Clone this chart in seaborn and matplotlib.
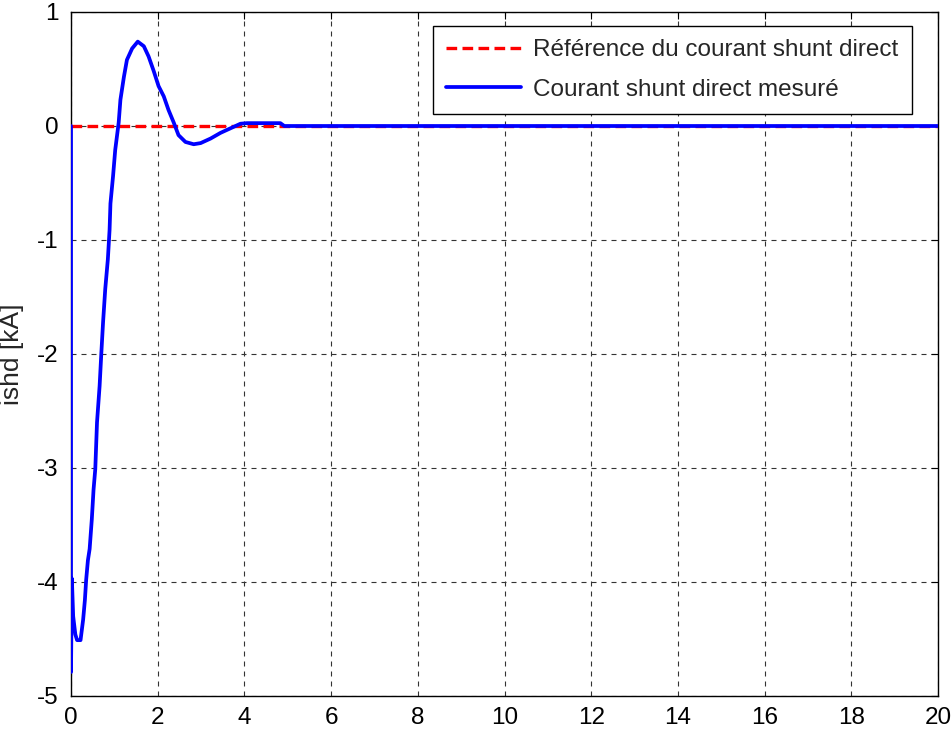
import matplotlib
matplotlib.use("Agg")
import matplotlib.pyplot as plt
import seaborn as sns
import pandas as pd

# Time axis [s] and measured direct shunt current [kA]
t_mesure = [0.0, 0.0, 0.02, 0.05, 0.10, 0.14, 0.22, 0.25, 0.28, 0.32, 0.35, 0.39,
            0.43, 0.48, 0.52, 0.56, 0.60, 0.66, 0.70, 0.74, 0.79, 0.85, 0.89,
            0.91, 0.97, 1.02, 1.10, 1.14, 1.22, 1.29, 1.41, 1.54, 1.68, 1.79,
            1.91, 2.02, 2.14, 2.25, 2.37, 2.48, 2.64, 2.83, 2.99, 3.22, 3.45,
            3.68, 3.91, 4.06, 4.83, 4.92, 20.0]
i_mesure = [0.0, -4.79, -3.97, -4.30, -4.46, -4.51, -4.51, -4.42, -4.33, -4.16,
            -3.98, -3.81, -3.71, -3.45, -3.19, -3.01, -2.60, -2.28, -1.99, -1.72,
            -1.43, -1.17, -0.91, -0.68, -0.44, -0.21, 0.03, 0.23, 0.43, 0.58,
            0.68, 0.74, 0.70, 0.61, 0.48, 0.35, 0.26, 0.14, 0.03, -0.08, -0.14,
            -0.16, -0.15, -0.11, -0.06, -0.02, 0.02, 0.025, 0.025, 0.0, 0.0]

# Reference of the direct shunt current
t_ref = [0.0, 20.0]
i_ref = [0.0, 0.0]

x_ticks = [0, 2, 4, 6, 8, 10, 12, 14, 16, 18, 20]
y_ticks = [-5, -4, -3, -2, -1, 0, 1]

sns.set_style("white")
plt.rcParams["font.family"] = ["Liberation Sans", "DejaVu Sans"]

fig = plt.figure(figsize=(9.52, 7.31), dpi=100)
ax = fig.add_axes([71 / 952, 1 - 696 / 731, 867 / 952, 684 / 731])

df_ref = pd.DataFrame({"t": t_ref, "i": i_ref})
df_mes = pd.DataFrame({"t": t_mesure, "i": i_mesure})

sns.lineplot(data=df_ref, x="t", y="i", ax=ax, color="#ff0000", linewidth=2.4,
             dashes=False, estimator=None, sort=False,
             label="Référence du courant shunt direct", zorder=3)
ax.lines[-1].set_dashes([3.2, 1.6])
sns.lineplot(data=df_mes, x="t", y="i", ax=ax, color="#0000ff", linewidth=2.7,
             estimator=None, sort=False,
             label="Courant shunt direct mesuré", zorder=4)

ax.set_xlim(0, 20)
ax.set_ylim(-5, 1)
ax.set_xticks(x_ticks)
ax.set_yticks(y_ticks)
ax.set_xticklabels([str(v) for v in x_ticks])
ax.set_yticklabels([str(v) for v in y_ticks])
ax.set_xlabel("")
ax.set_ylabel("ishd [kA]", fontsize=19)
ax.yaxis.set_label_coords(-0.054, 0.5)

ax.tick_params(axis="both", direction="in", length=5, width=0.8, colors="black",
               labelsize=17.5, top=True, right=True)
ax.tick_params(axis="x", pad=8)
ax.tick_params(axis="y", pad=9)

ax.grid(True, color="#333333", linestyle=(0, (4.5, 4.5)), linewidth=0.8)
for side in ax.spines.values():
    side.set_color("black")
    side.set_linewidth(1.0)

leg = ax.legend(loc="upper right", bbox_to_anchor=(0.970, 0.9795), fontsize=17.5,
                frameon=True, fancybox=False, framealpha=1, edgecolor="black",
                handlelength=3.1, handletextpad=0.5, labelspacing=0.72,
                borderpad=0.55, borderaxespad=0)
leg.get_frame().set_linewidth(1.0)

fig.savefig("out.png", dpi=100)
